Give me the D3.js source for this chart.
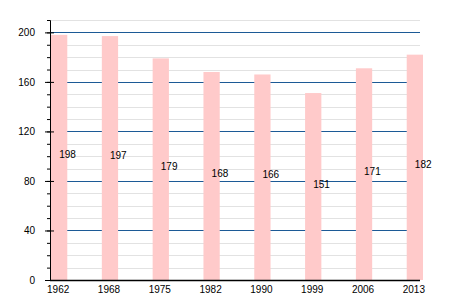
<!DOCTYPE html>
<html lang="en">
<head>
<meta charset="utf-8">
<script src="https://cdn.jsdelivr.net/npm/d3@7"></script>
<style>
body { margin: 0; background: #fff; }
text { font-family: "Liberation Sans", Arial, sans-serif; font-size: 10px; fill: #000; }
.minor { stroke: #e2e2e2; stroke-width: 1; }
.major { stroke: #1c5a96; stroke-width: 1; }
.bar { fill: #ffcaca; }
</style>
</head>
<body>
<svg id="chart" width="450" height="300"></svg>
<script>
var years = ["1962", "1968", "1975", "1982", "1990", "1999", "2006", "2013"];
var population = [198, 197, 179, 168, 166, 151, 171, 182];
var yTicks = [0, 40, 80, 120, 160, 200];

var plotLeft = 50, plotRight = 420, plotTop = 20, plotBottom = 280;

var svg = d3.select("#chart");

var y = d3.scaleLinear().domain([0, 210]).range([plotBottom, plotTop]);
var x = d3.scaleBand().domain(years).range([plotLeft, plotRight + 4]).paddingInner(0.68).paddingOuter(0.02);

// minor grid every 10
svg.append("g").selectAll("line")
    .data(d3.range(10, 211, 10).filter(function (v) { return v % 40 != 0; }))
    .enter().append("line")
    .attr("class", "minor")
    .attr("x1", plotLeft).attr("x2", plotRight)
    .attr("y1", function (d) { return Math.round(y(d)) + 0.5; })
    .attr("y2", function (d) { return Math.round(y(d)) + 0.5; });

svg.append("g").selectAll("line")
    .data(yTicks.slice(1))
    .enter().append("line")
    .attr("class", "major")
    .attr("x1", plotLeft).attr("x2", plotRight)
    .attr("y1", function (d) { return Math.round(y(d)) + 0.5; })
    .attr("y2", function (d) { return Math.round(y(d)) + 0.5; });

svg.append("g").selectAll("rect")
    .data(population)
    .enter().append("rect")
    .attr("class", "bar")
    .attr("x", function (d, i) { return x(years[i]); })
    .attr("width", x.bandwidth())
    .attr("y", function (d) { return y(d); })
    .attr("height", function (d) { return y(0) - y(d); });

svg.append("g").selectAll("text")
    .data(population)
    .enter().append("text")
    .attr("x", function (d, i) { return x(years[i]) + x.bandwidth() / 2; })
    .attr("y", function (d) { return y(d / 2) + 1; })
    .text(function (d) { return d; });

// y axis: minor ticks every 10, major ticks crossing the axis
var yAxis = d3.axisLeft(y).tickValues(d3.range(0, 211, 10)).tickSize(3).tickFormat("");
var gy = svg.append("g").attr("transform", "translate(" + plotLeft + ",0)").call(yAxis);
gy.select(".domain").attr("stroke", "#000");

var yMajor = d3.axisLeft(y).tickValues(yTicks).tickSize(5).tickPadding(10);
var gm = svg.append("g").attr("transform", "translate(" + plotLeft + ",0)").call(yMajor);
gm.select(".domain").remove();
gm.selectAll(".tick line").attr("x2", 4).attr("x1", -5).attr("stroke", "#000");
gm.selectAll(".tick text").style("font-size", "10px").style("font-family", null);

// x axis
var xAxis = d3.axisBottom(x).tickSize(0);
var gx = svg.append("g").attr("transform", "translate(0," + plotBottom + ")").call(xAxis);
gx.select(".domain").attr("d", "M" + plotLeft + ",0.5H" + plotRight).attr("stroke", "#000").attr("stroke-width", 1.5);
gx.selectAll(".tick text").attr("dy", "1em").attr("x", -1).style("font-size", "10px").style("font-family", null);
</script>
</body>
</html>
